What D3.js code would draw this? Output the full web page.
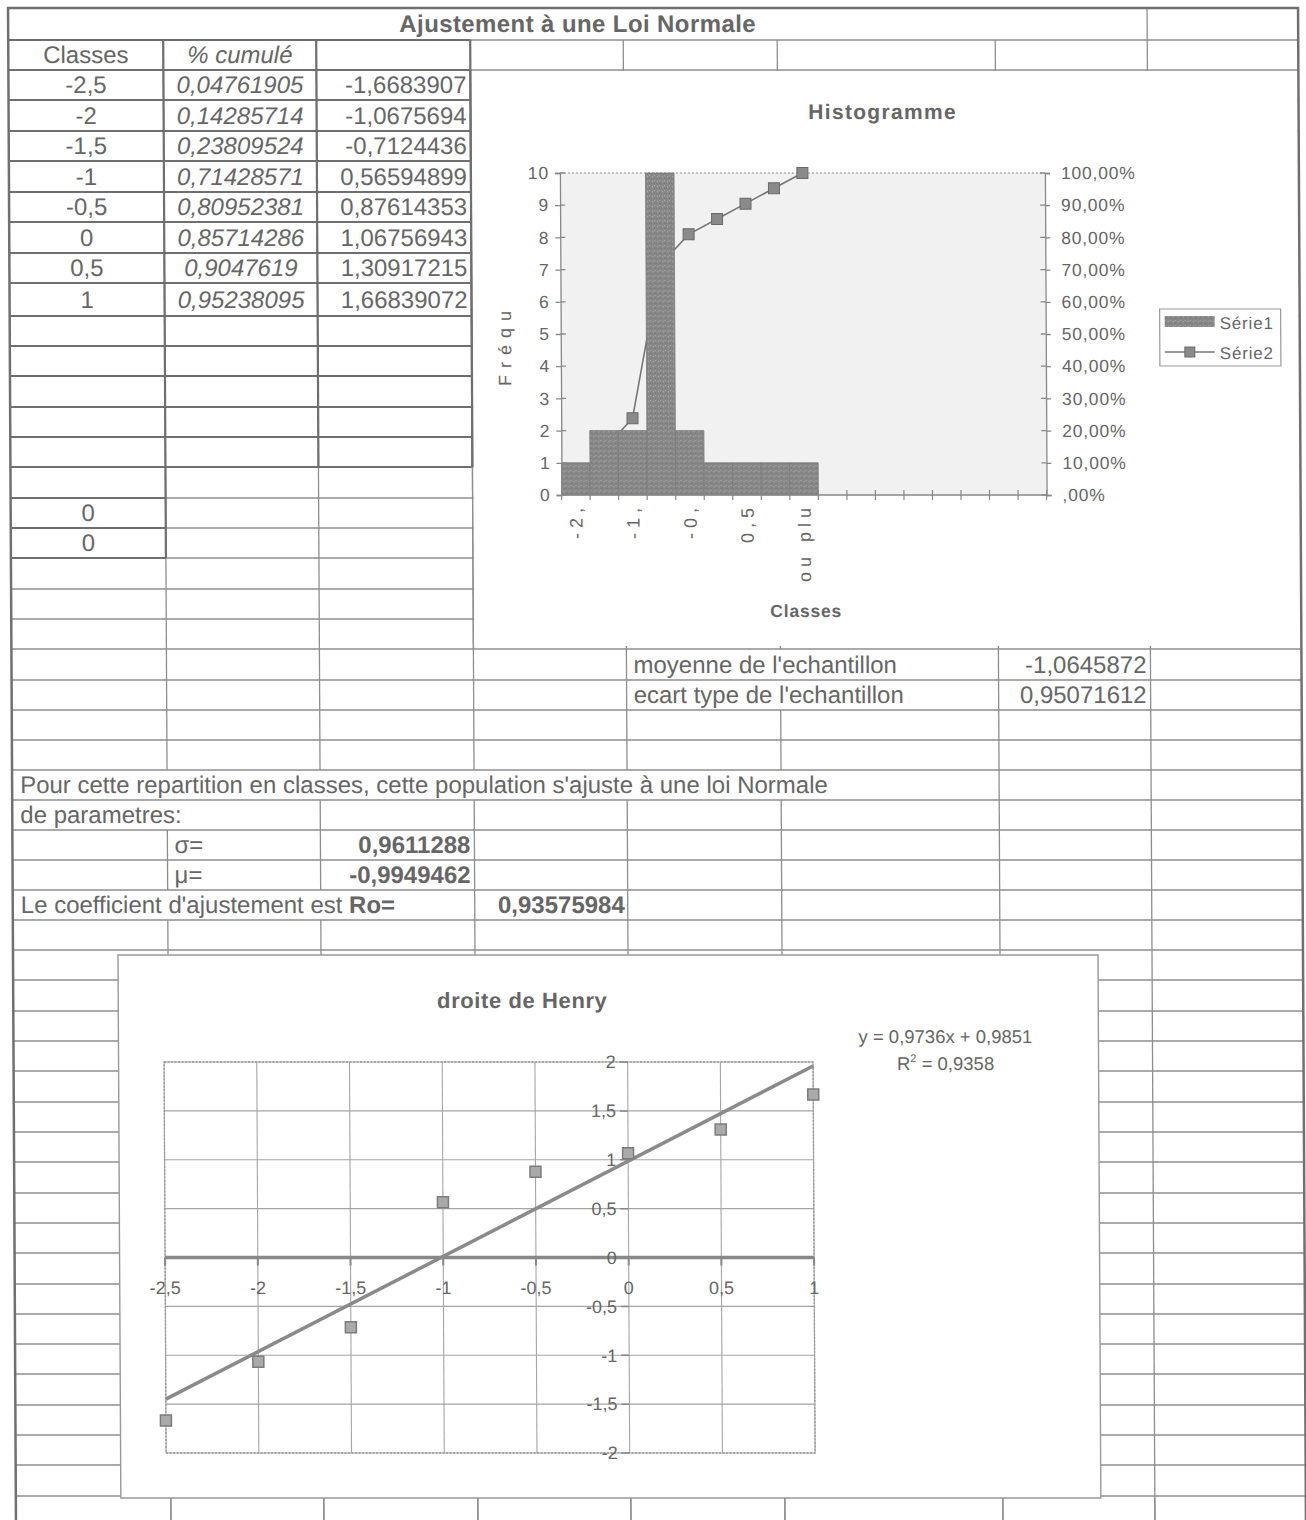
<!DOCTYPE html>
<html><head><meta charset="utf-8">
<script src="https://cdn.jsdelivr.net/npm/d3@7/dist/d3.min.js"></script>
<style>
body{margin:0;background:#fff}
svg{display:block}
text{font-family:"Liberation Sans",Arial,sans-serif;fill:#666}
</style>
</head><body>
<svg id="c" width="1306" height="1520"></svg>
<script>
// ---------------- DATA ----------------
const classLabels = ["-2,5","-2","-1,5","-1","-0,5","0","0,5","1"];
const classValues = [-2.5,-2,-1.5,-1,-0.5,0,0.5,1];
const cumulLabels = ["0,04761905","0,14285714","0,23809524","0,71428571","0,80952381","0,85714286","0,9047619","0,95238095"];
const zLabels = ["-1,6683907","-1,0675694","-0,7124436","0,56594899","0,87614353","1,06756943","1,30917215","1,66839072"];
const zValues = [-1.6683907,-1.0675694,-0.7124436,0.56594899,0.87614353,1.06756943,1.30917215,1.66839072];

const histCategories = ["-2,5","-2","-1,5","-1","-0,5","0","0,5","1","ou plus"];
const histFreq = [1,2,2,10,2,1,1,1,1];                       // Série1
const histCumul = [0.0476,0.1429,0.2381,0.7143,0.8095,0.8571,0.9048,0.9524,1.0]; // Série2
const histTickLabels = ["-2,","","-1,","","-0,","","0,5","","ou plu"];
const histSlots = 17;
const freqTicks = [0,1,2,3,4,5,6,7,8,9,10];
const pctTicks = [0,0.1,0.2,0.3,0.4,0.5,0.6,0.7,0.8,0.9,1.0];
const pctTickLabels = [",00%","10,00%","20,00%","30,00%","40,00%","50,00%","60,00%","70,00%","80,00%","90,00%","100,00%"];

const henryXTicks = [-2.5,-2,-1.5,-1,-0.5,0,0.5,1];
const henryXTickLabels = ["-2,5","-2","-1,5","-1","-0,5","0","0,5","1"];
const henryYTicks = [-2,-1.5,-1,-0.5,0,0.5,1,1.5,2];
const henryYTickLabels = ["-2","-1,5","-1","-0,5","0","0,5","1","1,5","2"];
const trendSlope = 0.9736, trendIntercept = 0.9851;
const trendText = "y = 0,9736x + 0,9851";
const r2Text = " = 0,9358";

const moyenneLabel = "-1,0645872", ecartLabel = "0,95071612";
const sigmaLabel = "0,9611288", muLabel = "-0,9949462", roLabel = "0,93575984";

// ---------------- LAYOUT ----------------
const svg = d3.select("#c");
const defs = svg.append("defs");
const pat = defs.append("pattern").attr("id","speck").attr("patternUnits","userSpaceOnUse").attr("width",5).attr("height",5);
pat.append("rect").attr("width",5).attr("height",5).attr("fill","#888");
[[1,1,"#b5b5b5"],[3,3,"#6c6c6c"],[3,0,"#a9a9a9"],[0,3,"#777"]].forEach(p=>
  pat.append("rect").attr("x",p[0]).attr("y",p[1]).attr("width",1).attr("height",1).attr("fill",p[2]));

const root = svg.append("g").attr("transform","skewX(0.3)");
const cols = [8,163,316,470,623,777,995,1147,1298];
const rowY = [8,40,70,100,131,161,192,222,253,283,316,346,376,407,437,467,498,528,558,589,619,649,680,710,740,770,800,830,860,890,920,950,980,1011,1041,1071,1102,1132,1162,1193,1223,1253,1284,1314,1344,1374,1405,1435,1465,1496,1526];
const thin = "#8e8e8e", thick = "#6f6f6f";

const grid = root.append("g");
function ln(g,x1,y1,x2,y2,c,w){g.append("line").attr("x1",x1).attr("y1",y1).attr("x2",x2).attr("y2",y2).attr("stroke",c).attr("stroke-width",w);}
rowY.forEach((y,i)=>{ if(i>0 && y<1520) ln(grid,cols[0],y,cols[8],y,thin,1.3); });
const fullV = cols.slice(1,8);
function vFor(r){
  if(r===0) return [1147];
  if(r===21||r===22) return [163,316,470,623,995,1147];
  if(r===25) return [995,1147];
  if(r===26) return [316,470,623,777,995,1147];
  if(r===29) return [470,623,777,995,1147];
  return fullV;
}
for(let r=0;r<rowY.length-1;r++){
  const y1=rowY[r], y2=Math.min(rowY[r+1],1520);
  vFor(r).forEach(x=>ln(grid,x,y1,x,y2,thin,1.3));
}
// thick table box
for(let i=1;i<=15;i++) ln(grid,8,rowY[i],470,rowY[i],thick,2.2);
[163,316,470].forEach(x=>ln(grid,x,40,x,467,thick,2.2));
ln(grid,163,467,163,558,thick,2.2);
[498,528,558].forEach(y=>ln(grid,8,y,163,y,thick,1.8));

// ---------------- HISTOGRAM ----------------
root.append("rect").attr("x",471).attr("y",71).attr("width",826).attr("height",575).attr("fill","#fff");
ln(root,470,70,470,467,thick,2.2);
ln(root,470,467,470,649,thin,1.3);

const H = root.append("g");
const hx = d3.scaleBand().domain(d3.range(histSlots)).range([559,1044]).padding(0);
const bw = hx.bandwidth();
const hy = d3.scaleLinear().domain([0,10]).range([495,173]);
const hy2 = d3.scaleLinear().domain([0,1]).range([495,173]);
H.append("rect").attr("x",559).attr("y",173).attr("width",485).attr("height",322).attr("fill","#f1f1f1");
H.append("line").attr("x1",559).attr("x2",1044).attr("y1",173).attr("y2",173).attr("stroke","#888").attr("stroke-width",1.2).attr("stroke-dasharray","2,2");

// Série2 line (drawn behind the bars)
H.append("path").datum(histCumul)
  .attr("d",d3.line().x((d,i)=>hx(i)+bw/2).y(d=>hy2(d)))
  .attr("fill","none").attr("stroke","#777").attr("stroke-width",1.6);
H.selectAll("rect.m").data(histCumul).join("rect").attr("class","m")
  .attr("x",(d,i)=>hx(i)+bw/2-5.5).attr("y",d=>hy2(d)-5.5).attr("width",11).attr("height",11)
  .attr("fill","#8a8a8a").attr("stroke","#6a6a6a").attr("stroke-width",1);
// Série1 bars
H.selectAll("rect.b").data(histFreq).join("rect").attr("class","b")
  .attr("x",(d,i)=>hx(i)).attr("width",bw).attr("y",d=>hy(d)).attr("height",d=>hy(0)-hy(d))
  .attr("fill","url(#speck)").attr("stroke","#7a7a7a").attr("stroke-width",0.8);

// axes
const axL = H.append("g").attr("transform","translate(559,0)")
  .call(d3.axisLeft(hy).tickValues(freqTicks).tickSize(5).tickPadding(6).tickFormat(d3.format("d")));
const axR = H.append("g").attr("transform","translate(1044,0)")
  .call(d3.axisRight(hy2).tickValues(pctTicks).tickSize(5).tickPadding(11).tickFormat((d,i)=>pctTickLabels[i]));
[axL,axR].forEach(a=>{
  a.selectAll("path,line").attr("stroke","#888").attr("stroke-width",1.3);
  a.selectAll("text").style("font-family","Liberation Sans, Arial").style("font-size","17.5px").attr("fill","#666").style("letter-spacing","0.8px");
});
H.selectAll("line.tl").data(freqTicks).join("line").attr("class","tl")
  .attr("x1",559).attr("x2",564).attr("y1",d=>hy(d)).attr("y2",d=>hy(d)).attr("stroke","#888").attr("stroke-width",1.3);
H.selectAll("line.tr").data(pctTicks).join("line").attr("class","tr")
  .attr("x1",1039).attr("x2",1044).attr("y1",d=>hy2(d)).attr("y2",d=>hy2(d)).attr("stroke","#888").attr("stroke-width",1.3);
H.append("line").attr("x1",559).attr("x2",1044).attr("y1",495).attr("y2",495).attr("stroke","#888").attr("stroke-width",1.4);
H.selectAll("line.tb").data(d3.range(histSlots+1)).join("line").attr("class","tb")
  .attr("x1",i=>559+i*bw).attr("x2",i=>559+i*bw).attr("y1",490).attr("y2",500).attr("stroke","#888").attr("stroke-width",1.2);
H.selectAll("text.cl").data(histTickLabels).join("text").attr("class","cl")
  .attr("transform",(d,i)=>`translate(${hx(i)+bw/2},503) rotate(-90)`)
  .attr("text-anchor","end").attr("dy","0.36em").style("font-size","18px").style("letter-spacing","5px").text(d=>d);
H.append("text").attr("transform","translate(503,345) rotate(-90)").attr("text-anchor","middle").attr("dy","0.35em")
  .style("font-size","18px").style("letter-spacing","7px").text("Fréqu");
H.append("text").attr("x",803).attr("y",617).attr("text-anchor","middle").style("font-size","17.5px").style("font-weight","bold").style("letter-spacing","0.8px").text("Classes");
H.append("text").attr("x",882).attr("y",119).attr("text-anchor","middle").style("font-size","21px").style("font-weight","bold").style("letter-spacing","1.3px").text("Histogramme");

// legend
const lg = H.append("g");
lg.append("rect").attr("x",1158).attr("y",309).attr("width",121).attr("height",57).attr("fill","#fff").attr("stroke","#999").attr("stroke-width",1.2);
lg.append("rect").attr("x",1163).attr("y",316).attr("width",50).attr("height",11).attr("fill","url(#speck)");
lg.append("text").attr("x",1218).attr("y",329).style("font-size","17px").style("letter-spacing","0.8px").text("Série1");
lg.append("line").attr("x1",1163).attr("x2",1213).attr("y1",352).attr("y2",352).attr("stroke","#777").attr("stroke-width",1.6);
lg.append("rect").attr("x",1183).attr("y",347).attr("width",10).attr("height",10).attr("fill","#8a8a8a").attr("stroke","#6a6a6a");
lg.append("text").attr("x",1218).attr("y",359).style("font-size","17px").style("letter-spacing","0.8px").text("Série2");

// ---------------- TABLE TEXT ----------------
const T = root.append("g");
function cell(r,x,anchor,txt,opts={}){
  const t = T.append("text").attr("x",x).attr("y",(rowY[r]+rowY[r+1])/2+8.5).attr("text-anchor",anchor)
    .style("font-size",(opts.size||24)+"px").text(txt);
  if(opts.bold) t.style("font-weight","bold");
  if(opts.italic) t.style("font-style","italic");
  if(opts.color) t.attr("fill",opts.color);
  if(opts.ls) t.style("letter-spacing",opts.ls+"px");
  return t;
}
cell(0,(cols[0]+cols[7])/2,"middle","Ajustement à une Loi Normale",{bold:true,color:"#606060",ls:0.4});
cell(1,(cols[0]+cols[1])/2,"middle","Classes");
cell(1,(cols[1]+cols[2])/2,"middle","% cumulé",{italic:true,color:"#777"});
classLabels.forEach((c,i)=>{
  cell(2+i,(cols[0]+cols[1])/2,"middle",c);
  cell(2+i,(cols[1]+cols[2])/2,"middle",cumulLabels[i],{italic:true,color:"#777"});
  cell(2+i,cols[3]-4,"end",zLabels[i]);
});
cell(16,(cols[0]+cols[1])/2,"middle","0",{color:"#777"});
cell(17,(cols[0]+cols[1])/2,"middle","0",{color:"#777"});
cell(21,630,"start","moyenne de l'echantillon");
cell(21,cols[7]-4,"end",moyenneLabel);
cell(22,630,"start","ecart type de l'echantillon");
cell(22,cols[7]-4,"end",ecartLabel);
cell(25,16,"start","Pour cette repartition en classes, cette population s'ajuste à une loi Normale");
cell(26,16,"start","de parametres:");
cell(27,170,"start","σ=",{color:"#888"});
cell(27,cols[3]-4,"end",sigmaLabel,{bold:true,color:"#606060"});
cell(28,170,"start","μ=",{color:"#888"});
cell(28,cols[3]-4,"end",muLabel,{bold:true,color:"#606060"});
const co = cell(29,16,"start","Le coefficient d'ajustement est ");
co.append("tspan").style("font-weight","bold").text("Ro=");
cell(29,cols[4]-3,"end",roLabel,{bold:true,color:"#606060"});

// ---------------- HENRY CHART ----------------
const G = root.append("g");
G.append("rect").attr("x",113).attr("y",955).attr("width",980).attr("height",543).attr("fill","#fff").attr("stroke","#999").attr("stroke-width",1.4);
fullV.forEach(x=>ln(G,x,1498,x,1520,thin,1.3));
const gx = d3.scaleLinear().domain([-2.5,1]).range([158.5,807.5]);
const gy = d3.scaleLinear().domain([-2,2]).range([1453,1062]);
G.selectAll("line.gv").data(henryXTicks).join("line").attr("class","gv")
  .attr("x1",d=>gx(d)).attr("x2",d=>gx(d)).attr("y1",gy(2)).attr("y2",gy(-2)).attr("stroke","#a5a5a5").attr("stroke-width",1.1);
G.selectAll("line.gh").data(henryYTicks).join("line").attr("class","gh")
  .attr("x1",gx(-2.5)).attr("x2",gx(1)).attr("y1",d=>gy(d)).attr("y2",d=>gy(d)).attr("stroke","#a5a5a5").attr("stroke-width",1.1);
G.append("rect").attr("x",gx(-2.5)).attr("y",gy(2)).attr("width",gx(1)-gx(-2.5)).attr("height",gy(-2)-gy(2))
  .attr("fill","none").attr("stroke","#999").attr("stroke-width",1.3).attr("stroke-dasharray","2,1.5");
G.append("line").attr("x1",gx(-2.5)).attr("x2",gx(1)).attr("y1",gy(0)).attr("y2",gy(0)).attr("stroke","#888").attr("stroke-width",3.5);
G.selectAll("line.xt").data(henryXTicks).join("line").attr("class","xt")
  .attr("x1",d=>gx(d)).attr("x2",d=>gx(d)).attr("y1",gy(0)).attr("y2",gy(0)+8).attr("stroke","#888").attr("stroke-width",2);
G.selectAll("text.xl").data(henryXTicks).join("text").attr("class","xl")
  .attr("x",d=>gx(d)).attr("y",gy(0)+37).attr("text-anchor","middle").style("font-size","18px").attr("fill","#777")
  .text((d,i)=>henryXTickLabels[i]);
G.selectAll("line.yt").data(henryYTicks).join("line").attr("class","yt")
  .attr("x1",gx(0)-8).attr("x2",gx(0)).attr("y1",d=>gy(d)).attr("y2",d=>gy(d)).attr("stroke","#888").attr("stroke-width",1.5);
G.selectAll("text.yl").data(henryYTicks).join("text").attr("class","yl")
  .attr("x",gx(0)-12).attr("y",d=>gy(d)).attr("dy","0.35em").attr("text-anchor","end").style("font-size","18px").attr("fill","#777")
  .text((d,i)=>henryYTickLabels[i]);
G.append("line").attr("x1",gx(-2.5)).attr("y1",gy(trendSlope*-2.5+trendIntercept))
  .attr("x2",gx(1)).attr("y2",gy(trendSlope*1+trendIntercept)).attr("stroke","#8a8a8a").attr("stroke-width",3.5);
G.selectAll("rect.pt").data(classValues).join("rect").attr("class","pt")
  .attr("x",d=>gx(d)-5.5).attr("y",(d,i)=>gy(zValues[i])-5.5).attr("width",11).attr("height",11)
  .attr("fill","#aaa").attr("stroke","#7c7c7c").attr("stroke-width",1.5);
G.append("text").attr("x",517).attr("y",1008).attr("text-anchor","middle").style("font-size","22px").style("font-weight","bold").style("letter-spacing","0.6px").attr("fill","#666").text("droite de Henry");
G.append("text").attr("x",940).attr("y",1043).attr("text-anchor","middle").style("font-size","18.5px").attr("fill","#777").text(trendText);
const r2 = G.append("text").attr("x",940).attr("y",1070).attr("text-anchor","middle").style("font-size","18.5px").attr("fill","#777");
r2.append("tspan").text("R");
r2.append("tspan").attr("dy",-8).style("font-size","11px").text("2");
r2.append("tspan").attr("dy",8).text(r2Text);

// outer border
root.append("rect").attr("x",8).attr("y",8).attr("width",1290).attr("height",1530).attr("fill","none").attr("stroke","#707070").attr("stroke-width",2.5);
</script>
</body></html>
